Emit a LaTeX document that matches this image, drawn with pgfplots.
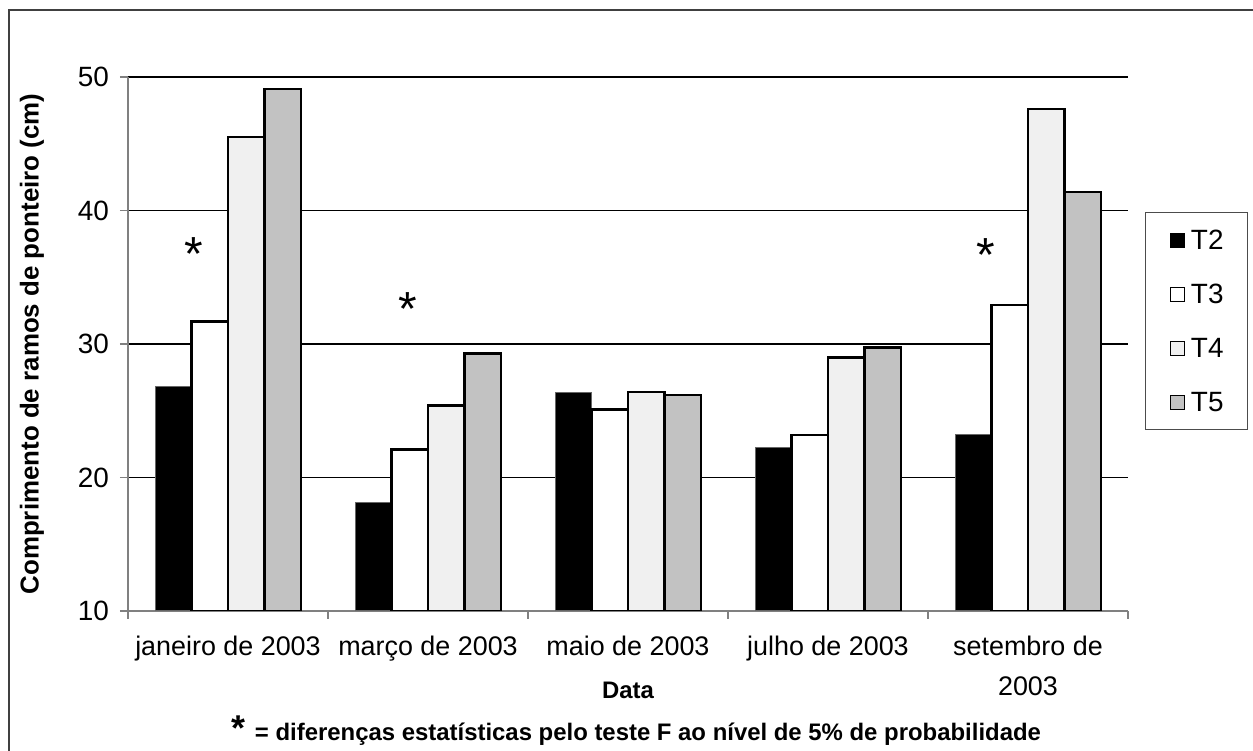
\documentclass[border=0pt]{standalone}
\usepackage{fontspec}
\setmainfont{Liberation Sans}
\usepackage{pgfplots}
\pgfplotsset{compat=1.18}
\definecolor{tfour}{gray}{0.94}
\definecolor{tfive}{gray}{0.76}
\definecolor{axgray}{gray}{0.5}
\begin{document}
\begin{tikzpicture}
\useasboundingbox (0,0) rectangle (626.5bp,375.5bp);
\draw[line width=1bp, black!75] (4.5bp,0) -- (4.5bp,370.5bp) -- (626.5bp,370.5bp);
\begin{axis}[
  at={(64bp,70bp)}, anchor=south west,
  scale only axis, width=500bp, height=267bp,
  /pgf/number format/assume math mode=true,
  ybar=0pt, bar width=0.1825,
  xmin=-0.5, xmax=4.5, ymin=10, ymax=50,
  ytick={10,20,30,40,50},
  xtick={0,1,2,3,4},
  xticklabels={janeiro de 2003, março de 2003, maio de 2003, julho de 2003, {setembro de\\2003}},
  minor xtick={-0.5,0.5,1.5,2.5,3.5,4.5},
  major x tick style={draw=none},
  tick align=outside, major tick length=4bp, minor tick length=4bp,
  tick style={axgray, line width=0.6bp},
  axis x line*=bottom, axis y line*=left,
  axis line style={axgray, line width=0.8bp, -},
  ymajorgrids, grid style={black, line width=0.6bp},
  xticklabel style={font=\fontsize{13.5}{20}\selectfont, align=center, yshift=-5bp, anchor=north},
  yticklabel style={font=\fontsize{14}{16}\selectfont, xshift=-2bp},
  xlabel={Data}, xlabel style={font=\bfseries\fontsize{12}{14}\selectfont, at={(axis description cs:0.5,-0.148)}, anchor=center},
  ylabel={Comprimento de ramos de ponteiro (cm)},
  ylabel style={font=\bfseries\fontsize{13}{15}\selectfont, at={(axis description cs:-0.096,0.5)}, anchor=center},
  legend style={at={(1.017,0.747)}, anchor=north west, draw=black!70, line width=0.6bp,
    inner xsep=12bp, inner ysep=9bp, row sep=17.5bp, column sep=3bp,
    nodes={inner sep=0pt, text height=9.5bp, text depth=0bp, font=\fontsize{14}{15}\selectfont}},
  legend cell align=left,
  legend image code/.code={\draw[#1, line width=0.7bp, draw=black] (0bp,-3.5bp) rectangle (7bp,3.5bp);},
]
\addplot[fill=black, draw=black!60, line width=0.5bp] coordinates {(0,26.8) (1,18.1) (2,26.4) (3,22.25) (4,23.2)};
\addplot[fill=white, draw=black, line width=1.2bp] coordinates {(0,31.7) (1,22.1) (2,25.1) (3,23.2) (4,32.9)};
\addplot[fill=tfour, draw=black, line width=1.2bp] coordinates {(0,45.5) (1,25.4) (2,26.4) (3,29.0) (4,47.6)};
\addplot[fill=tfive, draw=black, line width=1.2bp] coordinates {(0,49.1) (1,29.3) (2,26.2) (3,29.75) (4,41.4)};
\legend{T2,T3,T4,T5}
\node[anchor=north, inner sep=0pt, font=\fontsize{24}{24}\selectfont] at (axis cs:-0.17,38.0) {*};
\node[anchor=north, inner sep=0pt, font=\fontsize{24}{24}\selectfont] at (axis cs:0.90,33.9) {*};
\node[anchor=north, inner sep=0pt, font=\fontsize{24}{24}\selectfont] at (axis cs:3.79,37.9) {*};
\end{axis}
\node[anchor=base, inner sep=0pt] at (318bp,5.5bp) {\bfseries{\fontsize{18}{18}\selectfont *}\hspace{5bp}\fontsize{12}{14}\selectfont = diferenças estatísticas pelo teste F ao nível de 5\% de probabilidade};
\end{tikzpicture}
\end{document}
